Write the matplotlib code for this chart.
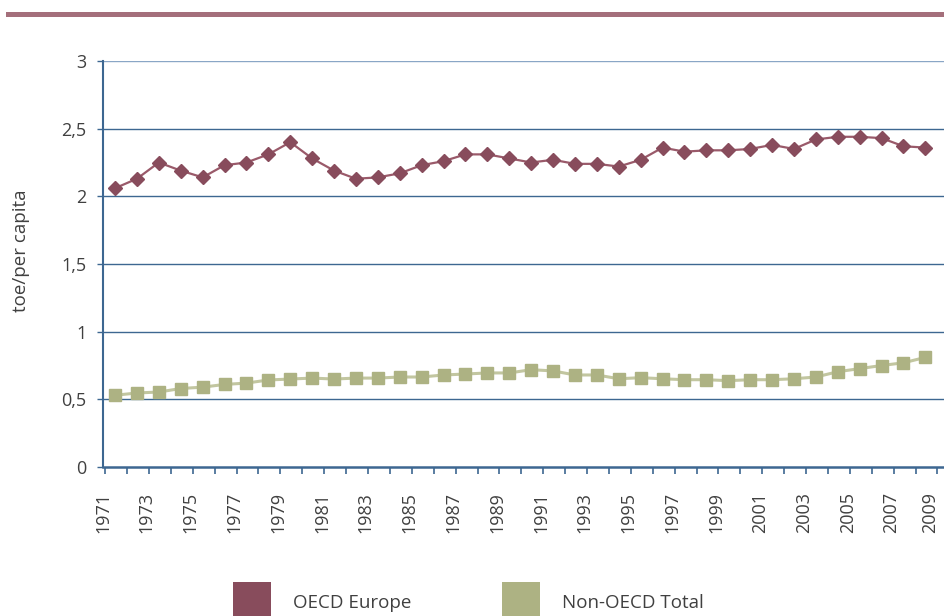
import numpy as np
import matplotlib
matplotlib.use('Agg')
import matplotlib.pyplot as plt
from matplotlib.patches import Rectangle
from matplotlib.ticker import FuncFormatter

years = list(range(1971, 2009))
oecd_europe = [2.06, 2.13, 2.25, 2.19, 2.14, 2.23, 2.25, 2.31, 2.40, 2.28,
               2.19, 2.13, 2.14, 2.17, 2.23, 2.26, 2.31, 2.31, 2.28, 2.25,
               2.27, 2.24, 2.24, 2.22, 2.27, 2.36, 2.33, 2.34, 2.34, 2.35,
               2.38, 2.35, 2.42, 2.44, 2.44, 2.43, 2.37, 2.36]
non_oecd = [0.53, 0.547, 0.554, 0.58, 0.59, 0.61, 0.62, 0.643, 0.65, 0.657,
            0.65, 0.657, 0.657, 0.665, 0.665, 0.68, 0.687, 0.695, 0.695, 0.719,
            0.71, 0.68, 0.68, 0.652, 0.66, 0.652, 0.645, 0.645, 0.638, 0.645,
            0.645, 0.652, 0.665, 0.704, 0.727, 0.75, 0.77, 0.81]
tick_labels = [str(y) for y in range(1971, 2010, 2)]
series_names = ['OECD Europe', 'Non-OECD Total']

c_eu = '#884c5c'
c_eu_line = '#9a5a6a'
c_non = '#adb283'
c_non_line = '#c2c6a0'
c_grid = '#3d6791'
c_text = '#404040'

plt.rcParams['font.family'] = ['Open Sans', 'DejaVu Sans']

fig = plt.figure(figsize=(9.44, 6.16), dpi=100)
W, H = 944, 616
ax = fig.add_axes([103 / W, 1 - 467 / H, 1 - 103 / W, (467 - 61) / H])

x = np.arange(len(years))
ax.plot(x, oecd_europe, color=c_eu_line, lw=1.6, marker='D', ms=7.5,
        mfc=c_eu, mec=c_eu, zorder=3)
ax.plot(x, non_oecd, color=c_non_line, lw=2.2, marker='s', ms=8.5,
        mfc=c_non, mec=c_non, zorder=3)

ax.set_xlim(-0.45, 37.85)
ax.set_ylim(0, 3)
ax.set_yticks(np.arange(0, 3.01, 0.5))
ax.yaxis.set_major_formatter(FuncFormatter(lambda v, p: ('%g' % v).replace('.', ',')))
for v in np.arange(0.5, 3.01, 0.5):
    ax.axhline(v, color=c_grid if v < 3 else '#8aa6c6', lw=1.0, zorder=1)

# tick marks between years, labels every second boundary
ax.xaxis.remove_overlapping_locs = False
ax.set_xticks(np.arange(-0.45, 38, 1))
ax.set_xticklabels([''] * 39)
label_pos = np.arange(-0.45, 38, 2) - 0.1
label_pos[-1] -= 0.25   # last label kept inside the frame
ax.set_xticks(label_pos, minor=True)
ax.set_xticklabels(tick_labels, minor=True, rotation=90, va='top')
ax.tick_params(axis='x', which='minor', length=0, pad=18, labelsize=13, labelcolor=c_text)
ax.tick_params(axis='x', which='major', length=5, width=1.2, color=c_grid)
ax.tick_params(axis='y', length=4, width=1, color=c_grid, labelsize=13,
               labelcolor=c_text, pad=8)

for s in ['top', 'right']:
    ax.spines[s].set_visible(False)
ax.spines['left'].set_color(c_grid)
ax.spines['left'].set_linewidth(1.5)
ax.spines['bottom'].set_color(c_grid)
ax.spines['bottom'].set_linewidth(1.8)

ax.set_ylabel('toe/per capita', fontsize=13.5, color=c_text)
ax.yaxis.set_label_coords((30 - 103) / 841, (467 - 251) / 406)

# top decorative rule
fig.add_artist(Rectangle((6 / W, 1 - 17 / H), 1 - 6 / W, 5 / H,
                         transform=fig.transFigure, color='#a46f7b', lw=0))

# legend
for i, (name, col) in enumerate(zip(series_names, [c_eu, c_non])):
    x0 = [233, 502][i]
    fig.add_artist(Rectangle((x0 / W, 1 - 620 / H), 38 / W, 38 / H,
                             transform=fig.transFigure, color=col, lw=0))
    fig.text((x0 + 60) / W, 1 - 603 / H, name, fontsize=13.5, color=c_text,
             va='center', ha='left')

fig.savefig('out.png', dpi=100)
